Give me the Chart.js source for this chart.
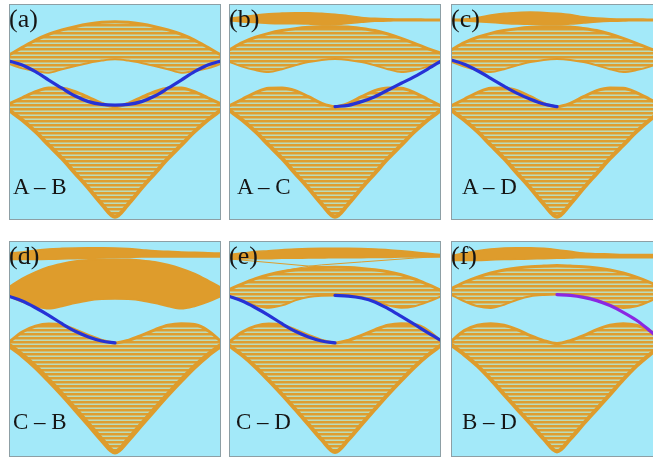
<!DOCTYPE html>
<html><head><meta charset="utf-8">
<script src="https://cdn.jsdelivr.net/npm/chart.js@4.4.1/dist/chart.umd.min.js"></script>
<style>
html,body{margin:0;padding:0;width:653px;height:458px;overflow:hidden;background:#fff;}
.panel{position:absolute;width:212px;height:216px;background:rgb(163,233,249);}
.panel canvas{position:absolute;left:0;top:0;}
.frame{position:absolute;left:0;top:0;width:212px;height:216px;box-sizing:border-box;border:1px solid #8d9fa5;pointer-events:none;}
.tag{position:absolute;font-family:"Liberation Serif","Times New Roman",serif;color:#151515;line-height:1;white-space:nowrap;}
.tag.p{font-size:26px;left:0;top:2px;}
.tag.n{font-size:23px;}
</style></head>
<body>
<div class="panel" id="pa" style="left:9px;top:4px"><canvas id="ca" width="212" height="216"></canvas><div class="frame"></div><div class="tag p">(a)</div><div class="tag n" style="left:4px;top:171px">A – B</div></div>
<div class="panel" id="pb" style="left:229px;top:4px"><canvas id="cb" width="212" height="216"></canvas><div class="frame"></div><div class="tag p">(b)</div><div class="tag n" style="left:8px;top:171px">A – C</div></div>
<div class="panel" id="pc" style="left:451px;top:4px"><canvas id="cc" width="212" height="216"></canvas><div class="frame"></div><div class="tag p">(c)</div><div class="tag n" style="left:11px;top:171px">A – D</div></div>
<div class="panel" id="pd" style="left:9px;top:241px"><canvas id="cd" width="212" height="216"></canvas><div class="frame"></div><div class="tag p">(d)</div><div class="tag n" style="left:4px;top:169px">C – B</div></div>
<div class="panel" id="pe" style="left:229px;top:241px"><canvas id="ce" width="212" height="216"></canvas><div class="frame"></div><div class="tag p">(e)</div><div class="tag n" style="left:7px;top:169px">C – D</div></div>
<div class="panel" id="pf" style="left:451px;top:241px"><canvas id="cf" width="212" height="216"></canvas><div class="frame"></div><div class="tag p">(f)</div><div class="tag n" style="left:11px;top:169px">B – D</div></div>
<script>
// wave vector k/pi sample points
const K = [-1,-0.875,-0.75,-0.625,-0.5,-0.375,-0.25,-0.125,0,0.125,0.25,0.375,0.5,0.625,0.75,0.875,1];
const KL = K.slice(0,9);
const KR = K.slice(8);

// (a) A - B
const aUpperTop = [76.4,79.9,83.3,86.0,88.0,89.5,90.7,91.5,91.8,91.5,90.7,89.5,88.0,86.0,83.3,79.9,76.4];
const aUpperBot = [72.2,70.2,69.0,68.2,69.8,71.3,72.7,73.8,74.4,73.8,72.7,71.3,69.8,68.2,69.0,70.2,72.2];
const aLowerTop = [53.7,56.6,59.4,61.1,61.0,59.4,56.8,54.0,52.5,54.0,56.8,59.4,61.0,61.1,59.4,56.6,53.7];
const aLowerBot = [50.9,46.3,40.9,34.7,28.5,21.6,14.7,7.4,1.5,7.4,14.7,21.6,28.5,34.7,40.9,46.3,50.9];
const aEdge     = [73.6,71.8,68.7,64.8,61.0,57.4,54.8,53.5,53.2,53.5,54.8,57.4,61.0,64.8,68.7,71.8,73.6];

// (b) A - C
const bTopTop   = [93.4,94.1,94.9,95.5,95.8,96.0,96.0,95.7,95.2,94.6,93.8,93.4,93.2,93.1,93.1,92.9,92.9];
const bTopBot   = [92.3,91.7,91.4,91.0,90.9,90.9,90.7,90.3,90.4,91.0,91.5,92.0,92.1,92.3,92.3,92.3,92.3];
const bUpperTop = [78.7,82.1,84.6,86.4,87.7,88.6,89.2,89.5,89.5,89.4,88.7,87.7,86.1,84.1,81.8,79.3,77.2];
const bUpperBot = [73.3,71.0,69.4,68.5,69.8,71.6,73.1,74.1,74.5,74.1,73.1,71.6,69.8,68.5,69.4,71.0,73.3];
const bLowerTop = [52.8,55.9,59.0,61.0,61.1,59.9,57.1,54.0,52.5,54.0,57.1,59.9,61.1,61.0,59.0,55.9,52.8];
const bLowerBot = [50.9,46.3,40.9,34.7,28.5,21.6,14.7,7.4,1.5,7.4,14.7,21.6,28.5,34.7,40.9,46.3,50.9];
const bEdge     = [52.5,53.1,54.8,57.1,60.2,63.3,66.4,69.9,73.6];

// (c) A - D
const cTopTop   = [92.9,93.1,93.8,94.9,95.7,96.1,96.3,96.1,95.7,95.1,94.1,93.5,93.2,93.1,93.1,92.9,92.9];
const cTopBot   = [92.3,92.1,91.8,91.4,91.0,90.7,90.6,90.4,90.4,90.7,91.2,91.7,92.0,92.1,92.3,92.3,92.3];
const cUpperTop = [78.7,82.1,84.6,86.4,87.7,88.6,89.2,89.5,89.5,89.4,88.7,87.7,86.1,84.1,81.8,79.3,77.2];
const cUpperBot = [73.3,71.0,69.4,68.5,69.8,71.6,73.1,74.1,74.5,74.1,73.1,71.6,69.8,68.5,69.4,71.0,73.3];
const cLowerTop = [52.8,55.9,59.0,61.0,61.1,59.9,57.1,54.0,52.5,54.0,57.1,59.9,61.1,61.0,59.0,55.9,52.8];
const cLowerBot = [50.9,46.3,40.9,34.7,28.5,21.6,14.7,7.4,1.5,7.4,14.7,21.6,28.5,34.7,40.9,46.3,50.9];
const cEdge     = [74.1,72.1,69.1,65.6,62.0,58.6,55.9,53.7,52.5];

// (d) C - B
const dTopTop   = [94.4,94.9,95.7,96.3,96.6,96.8,96.9,96.9,96.8,96.5,96.0,95.5,95.2,94.9,94.8,94.6,94.4];
const dTopBot   = [91.4,91.4,91.4,91.5,91.7,91.8,92.0,92.1,92.3,92.4,92.6,92.6,92.6,92.6,92.6,92.6,92.6];
const dUpperTop = [78.7,82.6,85.6,88.0,89.5,90.6,91.2,91.4,91.4,91.4,91.0,90.3,89.0,87.2,84.9,81.8,78.4];
const dUpperBot = [74.5,71.8,69.8,68.7,69.8,71.3,72.5,73.1,73.3,73.1,72.5,71.3,69.8,68.7,69.8,71.8,74.5];
const dLowerTop = [53.2,57.9,60.6,61.6,61.0,58.9,56.3,54.0,52.8,54.0,56.3,58.9,61.0,61.7,61.3,58.6,53.5];
const dLowerBot = [51.7,47.1,41.7,35.5,29.0,22.1,15.1,8.0,2.3,8.0,15.1,22.1,29.0,35.5,41.7,47.1,51.7];
const dEdge     = [74.4,72.2,69.1,65.6,61.7,58.2,55.6,53.7,52.8];

// (e) C - D
const eTopTop   = [93.8,94.4,95.1,95.5,96.0,96.3,96.5,96.6,96.6,96.6,96.5,96.3,96.0,95.5,94.9,94.3,93.7];
const eTopBot   = [91.7,91.7,91.8,91.8,92.0,92.0,92.1,92.1,92.3,92.3,92.3,92.4,92.4,92.6,92.6,92.6,92.6];
const eCrossAK  = [-1,-0.75,-0.5,-0.25,0];
const eCrossA   = [91.7,90.6,89.5,88.4,87.5];
const eCrossBK  = [-0.5,-0.25,0,0.25,0.5,0.75,1];
const eCrossB   = [86.0,88.3,89.4,90.3,91.2,92.1,92.9];
const eUpperTop = [77.5,80.2,82.6,84.4,85.8,86.7,87.3,87.7,87.8,87.7,87.3,86.7,85.8,84.4,82.4,79.9,77.2];
const eUpperBot = [74.4,72.2,70.2,69.1,70.2,72.5,74.1,74.7,74.8,74.7,74.1,72.5,70.2,69.1,69.8,71.8,74.4];
const eLowerTop = [53.2,57.9,60.6,61.6,61.0,58.9,56.3,54.0,52.8,54.0,56.3,58.9,61.0,61.7,61.3,58.6,53.5];
const eLowerBot = [51.7,47.1,41.7,35.5,29.0,22.1,15.1,8.0,2.3,8.0,15.1,22.1,29.0,35.5,41.7,47.1,51.7];
const eEdgeL    = [74.4,72.2,69.1,65.6,61.7,58.2,55.6,53.7,52.8];
const eEdgeR    = [74.8,74.5,73.6,71.8,68.7,65.1,61.4,57.6,54.0];

// (f) B - D
const fTopTop   = [93.2,94.4,95.5,96.3,96.8,96.9,96.9,96.6,96.0,95.2,94.4,94.1,94.0,93.8,93.8,93.7,93.7];
const fTopBot   = [91.0,91.0,91.0,91.2,91.4,91.5,91.7,91.8,92.0,92.1,92.3,92.3,92.3,92.3,92.3,92.3,92.3];
const fUpperTop = [77.8,80.9,83.3,85.2,86.6,87.5,88.1,88.4,88.6,88.4,88.1,87.5,86.6,85.2,83.3,80.9,77.8];
const fUpperBot = [75.2,72.1,69.8,69.0,70.5,72.8,74.4,75.0,75.2,75.0,74.4,72.8,70.5,69.0,69.8,72.1,75.2];
const fLowerTop = [53.5,58.5,61.0,61.7,61.0,59.0,56.2,53.9,52.5,53.9,56.2,59.0,61.0,61.7,61.0,58.5,53.5];
const fLowerBot = [52.0,47.4,42.2,35.9,29.0,22.2,15.4,8.4,2.6,8.4,15.4,22.2,29.0,35.9,42.2,47.4,52.0];
const fEdgeR    = [75.2,74.8,73.9,72.4,70.1,67.0,63.3,58.5,53.5];

const ORANGE = 'rgb(222,156,44)';
const BLUE = 'rgb(38,50,214)';
const PURPLE = 'rgb(138,40,226)';

function stripes(){
  const c = document.createElement('canvas'); c.width = 4; c.height = 4;
  const g = c.getContext('2d');
  g.fillStyle = 'rgb(222,158,48)'; g.fillRect(0,0,4,4);
  g.fillStyle = 'rgb(206,190,120)'; g.fillRect(0,2,4,1);
  g.fillStyle = 'rgb(186,220,186)'; g.fillRect(0,3,4,1);
  return g.createPattern(c,'repeat');
}
const STRIPE = stripes();

function pts(ks, ys){ return ys.map((y,i)=>({x:ks[i], y:y})); }
function line(ks, ys, color, width){
  return {data:pts(ks,ys), borderColor:color, borderWidth:width, pointRadius:0, fill:false,
          cubicInterpolationMode:'monotone', borderCapStyle:'round', borderJoinStyle:'round'};
}
function band(top, bot, fillStyle, wTop, wBot){
  const t = line(K, top, ORANGE, wTop || 2.5);
  const b = line(K, bot, ORANGE, wBot || wTop || 2.5);
  b.fill = '-1'; b.backgroundColor = fillStyle;
  return [t, b];
}

function draw(id, datasets){
  new Chart(document.getElementById(id), {
    type:'line',
    data:{datasets:datasets},
    options:{
      responsive:false, animation:false, events:[],
      layout:{padding:0},
      plugins:{legend:{display:false}, tooltip:{enabled:false}},
      scales:{x:{type:'linear', min:-1, max:1, display:false},
              y:{type:'linear', min:0, max:100, display:false}}
    }
  });
}

draw('ca', [line(K, aEdge, BLUE, 3.2),
  ...band(aUpperTop, aUpperBot, STRIPE, 3, 2),
  ...band(aLowerTop, aLowerBot, STRIPE, 3, 4)]);
draw('cb', [line(KR, bEdge, BLUE, 3.2),
  ...band(bTopTop, bTopBot, ORANGE, 1.5),
  ...band(bUpperTop, bUpperBot, STRIPE, 3, 2),
  ...band(bLowerTop, bLowerBot, STRIPE, 3, 4)]);
draw('cc', [line(KL, cEdge, BLUE, 3.2),
  ...band(cTopTop, cTopBot, ORANGE, 1.5),
  ...band(cUpperTop, cUpperBot, STRIPE, 3, 2),
  ...band(cLowerTop, cLowerBot, STRIPE, 3, 4)]);
draw('cd', [line(KL, dEdge, BLUE, 3.2),
  ...band(dTopTop, dTopBot, ORANGE, 1.5),
  ...band(dUpperTop, dUpperBot, ORANGE, 2),
  ...band(dLowerTop, dLowerBot, STRIPE, 3, 5)]);
draw('ce', [line(KL, eEdgeL, BLUE, 3.2), line(KR, eEdgeR, BLUE, 3.2),
  line(eCrossAK, eCrossA, ORANGE, 1), line(eCrossBK, eCrossB, ORANGE, 1),
  ...band(eTopTop, eTopBot, ORANGE, 1.5),
  ...band(eUpperTop, eUpperBot, STRIPE, 3, 2),
  ...band(eLowerTop, eLowerBot, STRIPE, 3, 4)]);
draw('cf', [line(KR, fEdgeR, PURPLE, 3.2),
  ...band(fTopTop, fTopBot, ORANGE, 1.5),
  ...band(fUpperTop, fUpperBot, STRIPE, 3, 2),
  ...band(fLowerTop, fLowerBot, STRIPE, 3, 4)]);
</script>
</body></html>
